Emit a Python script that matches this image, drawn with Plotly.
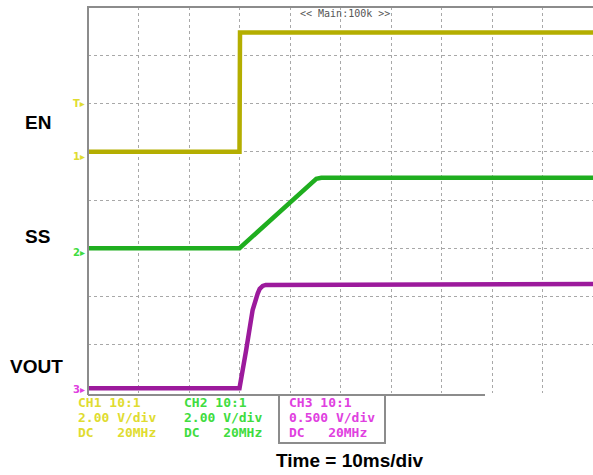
import plotly.graph_objects as go

# ---- data (time in ms, voltages in V) ----
en_t = [0.0, 30.0, 30.1, 100.0]
en_v = [0.0, 0.0, 4.94, 4.94]

ss_t = [0.0, 30.0, 45.2, 46.2, 100.0]
ss_v = [0.0, 0.0, 2.88, 2.92, 2.92]

vout_t = [0.0, 30.0, 31.3, 32.6, 33.6, 34.0, 34.6, 35.2, 100.0]
vout_v = [0.0, 0.0, 0.39, 0.81, 0.98, 1.03, 1.06, 1.07, 1.08]

signal_labels = ["EN", "SS", "VOUT"]
ch_rows = [["CH1 10:1", "2.00 V/div", "DC   20MHz"],
           ["CH2 10:1", "2.00 V/div", "DC   20MHz"],
           ["CH3 10:1", "0.500 V/div", "DC   20MHz"]]

C_EN = "#b4ae00"
C_SS = "#1fae1f"
C_VO = "#9c1a9c"
T_EN = "#e0dc30"
T_SS = "#40dc40"
T_VO = "#e040e0"

fig = go.Figure()
fig.add_trace(go.Scatter(x=en_t, y=en_v, mode="lines", yaxis="y",
                         line=dict(color=C_EN, width=4.5), showlegend=False))
fig.add_trace(go.Scatter(x=ss_t, y=ss_v, mode="lines", yaxis="y2",
                         line=dict(color=C_SS, width=4.5), showlegend=False))
fig.add_trace(go.Scatter(x=vout_t, y=vout_v, mode="lines", yaxis="y3",
                         line=dict(color=C_VO, width=4.5), showlegend=False))

grid = dict(showgrid=True, gridcolor="#a8a8a8", griddash="dot", gridwidth=1,
            showticklabels=False, ticks="", zeroline=False, showline=False)

fig.update_layout(
    width=593, height=475,
    margin=dict(l=88, r=0, t=7, b=82),
    paper_bgcolor="white", plot_bgcolor="white",
    xaxis=dict(range=[0, 100], tickvals=[10, 20, 30, 40, 50, 60, 70, 80, 90], **grid),
    yaxis=dict(range=[-10, 6], tickvals=[-8, -6, -4, -2, 0, 2, 4], **grid),
    yaxis2=dict(range=[-6, 10], overlaying="y", showgrid=False, showticklabels=False,
                zeroline=False, ticks=""),
    yaxis3=dict(range=[-0.05, 3.95], overlaying="y", showgrid=False, showticklabels=False,
                zeroline=False, ticks=""),
    font=dict(family="Liberation Sans, Arial"),
)

def px_x(x):
    return (x - 88) / 505.0

def px_y(y):
    return (393 - y) / 386.0

shapes = [
    dict(type="line", xref="paper", yref="paper", x0=0, x1=0, y0=px_y(395), y1=px_y(6),
         line=dict(color="#8c8c8c", width=2)),
    dict(type="line", xref="paper", yref="paper", x0=0, x1=1, y0=px_y(7), y1=px_y(7),
         line=dict(color="#8c8c8c", width=2)),
    dict(type="line", xref="paper", yref="paper", x0=0, x1=px_x(485), y0=px_y(395), y1=px_y(395),
         line=dict(color="#8c8c8c", width=2)),
    dict(type="path", xref="paper", yref="paper",
         path="M %f,%f L %f,%f L %f,%f L %f,%f" % (px_x(279), px_y(395), px_x(279), px_y(443),
                                                   px_x(385), px_y(443), px_x(385), px_y(395)),
         line=dict(color="#8c8c8c", width=2)),
]
fig.update_layout(shapes=shapes)

ann = []
for lab, (xx, yy) in zip(signal_labels, [(37.5, 123), (37.5, 236), (36.5, 366)]):
    ann.append(dict(text="<b>%s</b>" % lab, x=px_x(xx), y=px_y(yy), xref="paper", yref="paper",
                    showarrow=False, xanchor="center", yanchor="middle",
                    font=dict(size=19, color="black", family="Liberation Sans, Arial")))
ann.append(dict(text="<b>Time = 10ms/div</b>", x=px_x(349), y=px_y(460), xref="paper", yref="paper",
                showarrow=False, xanchor="center", yanchor="middle",
                font=dict(size=19, color="black", family="Liberation Sans, Arial")))
for rows, x0, col in zip(ch_rows, [76, 182, 287], [T_EN, T_SS, T_VO]):
    for r, yy in zip(rows, [402.5, 417.5, 433]):
        ann.append(dict(text="<b>%s</b>" % r, x=px_x(x0), y=px_y(yy), xref="paper", yref="paper",
                        showarrow=False, xanchor="left", yanchor="middle",
                        font=dict(size=13, color=col, family="DejaVu Sans Mono")))
ann.append(dict(text="&lt;&lt; Main:100k &gt;&gt;", x=px_x(345), y=px_y(14), xref="paper", yref="paper",
                showarrow=False, xanchor="center", yanchor="middle",
                font=dict(size=10, color="#555555", family="DejaVu Sans Mono")))
for txt, yy, col in [("T", 103, T_EN), ("1", 156, T_EN), ("2", 252, T_SS), ("3", 389, T_VO)]:
    ann.append(dict(text="<b>%s▸</b>" % txt, x=px_x(87), y=px_y(yy), xref="paper", yref="paper",
                    showarrow=False, xanchor="right", yanchor="middle",
                    font=dict(size=10, color=col, family="DejaVu Sans")))
fig.update_layout(annotations=ann)

fig.write_html("out.html", config={"displayModeBar": False},
               post_script="document.body.style.margin='0';")
